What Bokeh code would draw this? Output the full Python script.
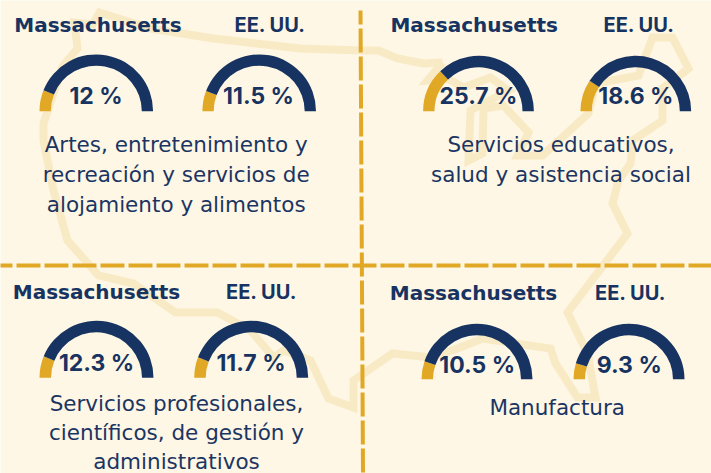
from bokeh.plotting import figure
from bokeh.models import ColumnDataSource, Range1d
from bokeh.core.properties import value
from bokeh.embed import file_html
from bokeh.resources import INLINE
import math

W, H = 711, 473
FONT = "DejaVu Sans"
ALT_FONT = "Inter"
NAVY = "#173361"
GOLD = "#E0A825"
BG = "#FEF7E5"
MAP = "#F9EAC6"

# Data
regions = ["Massachusetts", "EE. UU."]
region_fonts = [(FONT, "20px"), (ALT_FONT, "20px")]
sector_names = [
    ["Artes, entretenimiento y", "recreación y servicios de", "alojamiento y alimentos"],
    ["Servicios educativos,", "salud y asistencia social"],
    ["Servicios profesionales,", "científicos, de gestión y", "administrativos"],
    ["Manufactura"],
]
massachusetts_pct = [12, 25.7, 12.3, 10.5]
us_pct = [11.5, 18.6, 11.7, 9.3]

# Decorative map outline
map_x = [442, 427, 447, 463, 490, 508, 470, 468, 482, 483, 503, 528, 517, 542, 588, 595, 638, 652, 672, 688, 662, 662,
         632, 630, 618, 612, 627, 567, 587, 595, 577, 555, 550, 482, 457, 430, 392, 353, 353, 328, 310, 283, 273, 250,
         217, 175, 133, 98, 67, 53, 43, 43, 62, 77, 74, 92, 99, 150, 213, 300, 360, 378, 397, 423, 442]
map_y = [62, 80, 78, 87, 77, 90, 110, 160, 153, 108, 105, 132, 155, 155, 113, 83, 75, 37, 37, 68, 88, 120,
         140, 163, 180, 203, 233, 312, 353, 397, 397, 363, 348, 338, 348, 357, 353, 380, 407, 398, 360, 350, 357, 330,
         312, 312, 283, 275, 240, 190, 140, 123, 66, 48, 22, 24, 12, 28, 38, 48, 50, 50, 58, 63, 62]

# Layout (reference pixels, y measured from the top)
g_cx = [[95.8, 258.7], [478, 635.3], [96, 250.7], [476.5, 628.5]]
g_by = [110.7, 110.7, 377.3, 378.7]
g_r = [(45.5, 56.8), (44, 55.4), (45.5, 57), (44, 55.5)]
head_x = [[97.5, 269.5], [473.7, 638.5], [96, 261], [473, 630]]
head_y = [24, 24, 291, 292.7]
val_x = [[95.5, 258], [478, 635.3], [96, 250.5], [476.7, 628.7]]
val_y = [95, 95, 362.7, 364]
cat_x = [175.7, 560.5, 176, 556.7]
cat_y = [144, 144, 403, 406.7]
line_step = [30, 30, 29, 30]


def Y(v):
    return H - v


p = figure(width=W, height=H, x_range=Range1d(0, W), y_range=Range1d(0, H),
           output_backend="svg", toolbar_location=None, min_border=0,
           background_fill_color=BG, border_fill_color=BG, outline_line_color=None)
p.xaxis.visible = False
p.yaxis.visible = False
p.grid.visible = False
p.styles = {"position": "absolute", "left": "0px", "top": "0px"}

p.line(map_x, [Y(v) for v in map_y], line_color=MAP, line_width=8, line_join="miter")

p.line([-12, W], [Y(265), Y(265)], line_color=GOLD, line_width=4, line_dash="24 4")
p.line([360, 362.5], [Y(10), Y(H)], line_color=GOLD, line_width=4, line_dash="24 4", line_dash_offset=10)

for i in range(4):
    for j, pct in enumerate((massachusetts_pct[i], us_pct[i])):
        split = math.pi * (1 - pct / 100)
        src = ColumnDataSource(dict(
            x=[g_cx[i][j]] * 2, y=[Y(g_by[i])] * 2,
            start=[math.pi, split], end=[split, 0.0], color=[GOLD, NAVY]))
        p.annular_wedge("x", "y", inner_radius=g_r[i][0], outer_radius=g_r[i][1],
                        start_angle="start", end_angle="end", direction="clock",
                        fill_color="color", line_color=None, source=src)
        p.text([head_x[i][j]], [Y(head_y[i])], text=[regions[j]], text_font=value(region_fonts[j][0]),
               text_font_style="bold", text_font_size=region_fonts[j][1], text_color=NAVY,
               text_align="center", text_baseline="middle")
        p.text([val_x[i][j]], [Y(val_y[i])], text=[f"{pct} %"], text_font=value(ALT_FONT),
               text_font_style="bold", text_font_size="23px", text_color=NAVY,
               text_align="center", text_baseline="middle")
    for k, line in enumerate(sector_names[i]):
        p.text([cat_x[i]], [Y(cat_y[i] + k * line_step[i])], text=[line], text_font=value(FONT),
               text_font_size="21.5px", text_color="#1B3563",
               text_align="center", text_baseline="middle")

open("out.html", "w").write(file_html(p, INLINE))
